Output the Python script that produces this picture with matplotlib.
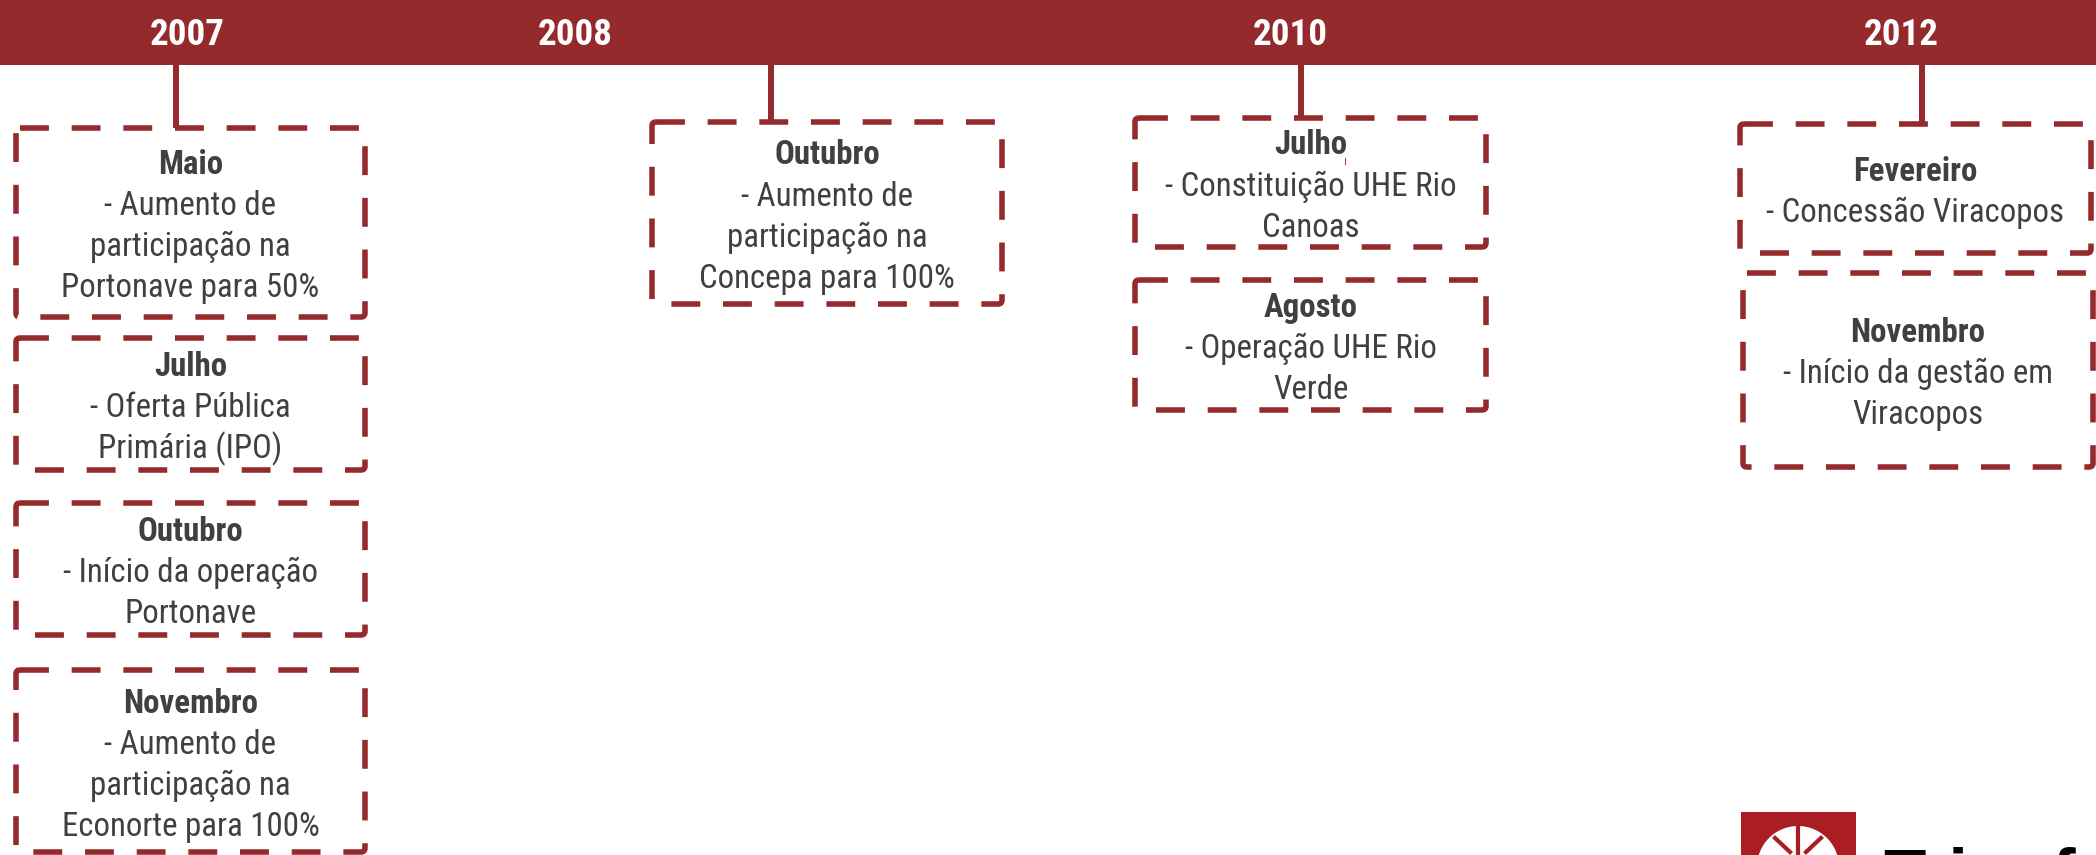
import matplotlib
matplotlib.use("Agg")
import matplotlib.pyplot as plt
from matplotlib import font_manager as fm
from matplotlib.patches import Rectangle, FancyBboxPatch, Circle

# timeline content
years = ['2007', '2008', '2010', '2012']
months = ['Maio', 'Julho', 'Outubro', 'Novembro',
          'Outubro',
          'Julho', 'Agosto',
          'Fevereiro', 'Novembro']
descriptions = [
    '- Aumento de\nparticipação na\nPortonave para 50%',
    '- Oferta Pública\nPrimária (IPO)',
    '- Início da operação\nPortonave',
    '- Aumento de\nparticipação na\nEconorte para 100%',
    '- Aumento de\nparticipação na\nConcepa para 100%',
    '- Constituição UHE Rio\nCanoas',
    '- Operação UHE Rio\nVerde',
    '- Concessão Viracopos',
    '- Início da gestão em\nViracopos',
]

# layout (pixel coordinates, y downwards)
W, H = 2096, 855
banner_h = 65
year_x = [187, 575, 1290, 1901]
conn_x = [176, 771, 1301, 1922]
conn_end = [128, 122, 118, 124]
box_x0 = [16, 16, 16, 16, 652, 1135, 1135, 1740, 1743]
box_x1 = [365, 365, 365, 365, 1002, 1486, 1486, 2091, 2093]
box_y0 = [128, 338, 503, 670, 122, 118, 280, 124, 273]
box_y1 = [317, 470, 635, 852, 304, 247, 410, 253, 467]

red = '#942A2B'
grey = '#404040'
line_h = 41


def wt(f):
    w = f.weight
    if isinstance(w, str):
        return 700 if 'bold' in w.lower() else 400
    return w


def pick_font():
    # look for a narrow / condensed sans face, regular + bold
    wanted = ['Liberation Sans Narrow', 'Roboto Condensed', 'Open Sans Condensed',
              'Noto Sans', 'Open Sans', 'Roboto', 'DejaVu Sans']
    for name in wanted:
        pool = [f for f in fm.fontManager.ttflist
                if f.name == name and f.style == 'normal'
                and ('Narrow' in name or 'Condensed' in name
                     or f.stretch in ('condensed', 'semi-condensed'))]
        reg = [f for f in pool if wt(f) == 400]
        bld = [f for f in pool if wt(f) == 700]
        if reg and bld:
            return (fm.FontProperties(fname=reg[0].fname),
                    fm.FontProperties(fname=bld[0].fname))
    return (fm.FontProperties(family='Liberation Sans'),
            fm.FontProperties(family='Liberation Sans', weight='bold'))


fp_reg, fp_bold = pick_font()

fig = plt.figure(figsize=(W / 100, H / 100), dpi=100)
ax = fig.add_axes([0, 0, 1, 1])
ax.set_xlim(0, W)
ax.set_ylim(H, 0)
ax.axis('off')
renderer = fig.canvas.get_renderer()


def fit_size(txt, fp, size, target):
    t = ax.text(0, 0, txt, fontproperties=fp, fontsize=size)
    w = t.get_window_extent(renderer).width
    t.remove()
    return size * min(1.0, target / w)


body_size = fit_size('Concepa para 100%', fp_reg, 26, 255)
year_size = fit_size('2010', fp_bold, 29, 75)

# banner with years
ax.add_patch(Rectangle((0, 0), W, banner_h, color=red, lw=0))
for yr, x in zip(years, year_x):
    ax.text(x, 45, yr, color='white', fontproperties=fp_bold, fontsize=year_size,
            ha='center', va='baseline')

# connectors
for x, y1 in zip(conn_x, conn_end):
    ax.plot([x, x], [banner_h, y1], color=red, lw=4.3, solid_capstyle='butt')

# event boxes
for m, d, x0, x1, y0, y1 in zip(months, descriptions, box_x0, box_x1, box_y0, box_y1):
    ax.add_patch(FancyBboxPatch((x0, y0), x1 - x0, y1 - y0,
                                boxstyle='round,pad=0,rounding_size=4',
                                fill=False, ec=red, lw=4.0,
                                linestyle=(0, (5.2, 4.1))))
    lines = [m] + d.split('\n')
    cx = (x0 + x1) / 2
    cy = (y0 + y1) / 2
    base = cy + 13 - (len(lines) - 1) / 2 * line_h
    for i, ln in enumerate(lines):
        ax.text(cx, base + i * line_h, ln, color=grey, fontsize=body_size,
                fontproperties=fp_bold if i == 0 else fp_reg,
                ha='center', va='baseline')

# small stray mark next to "Julho"
ax.plot([1345, 1345], [158, 164], color='#C04040', lw=0.8)

# logo, cut by the bottom edge
ax.add_patch(Rectangle((1741, 812), 115, 60, color='#AA1E23', lw=0))
ax.add_patch(Circle((1798, 867), 41, color='white', lw=0))
ax.plot([1775, 1790], [838, 852], color='#AA1E23', lw=3)
ax.plot([1821, 1806], [838, 852], color='#AA1E23', lw=3)
ax.plot([1798, 1798], [826, 855], color='#AA1E23', lw=3)
ax.text(1883, 846, 'Triunfo', color='black', fontsize=50, fontweight='bold',
        family=['Liberation Sans', 'DejaVu Sans'], ha='left', va='top')

fig.savefig('out.png', dpi=100)
